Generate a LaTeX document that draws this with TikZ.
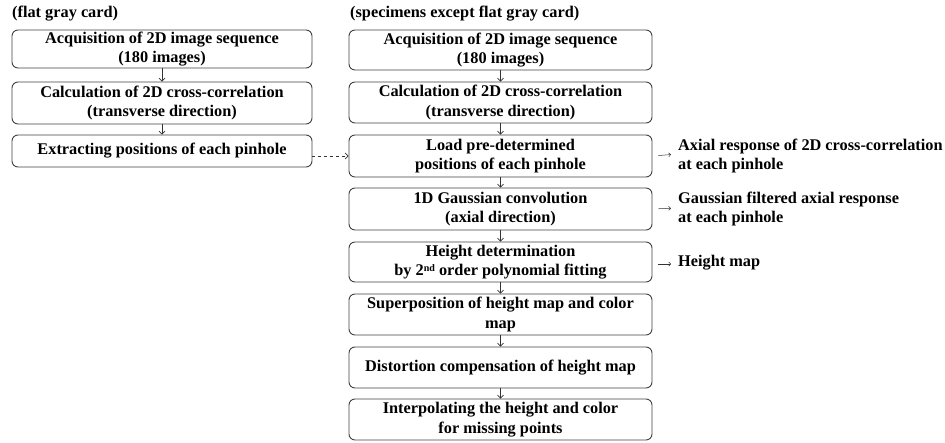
\documentclass[tikz,border=0pt]{standalone}
\usepackage{fontspec}
\setmainfont{Liberation Serif}
\usetikzlibrary{arrows.meta}
\begin{document}
\begin{tikzpicture}[x=1pt,y=-1pt,
  every node/.style={font=\bfseries\fontsize{16.3}{19.5}\selectfont, text=black},
  stepbox/.style={draw=black!75, line width=0.9pt, rounded corners=6pt, align=center, inner sep=0pt, minimum width=#1},
  stepbox/.default=300pt,
  flow/.style={draw=black!80, line width=0.7pt, -{Straight Barb[length=3pt,width=6pt]}},
  side/.style={draw=black!80, line width=0.5pt, -{Straight Barb[length=2pt,width=4pt]}, shorten <=6pt, shorten >=7pt},
  note/.style={anchor=west, align=left, inner sep=0pt},
  head/.style={anchor=west, inner sep=0pt}]
\useasboundingbox (0,0) rectangle (945,443);
% headers
\node[head] (hL) at (12,14) {(flat gray card)};
\node[head] (hR) at (350,14) {(specimens except flat gray card)};
% left column
\node[stepbox, minimum height=38pt] (L1) at (162,49) {Acquisition of 2D image sequence\\(180 images)};
\node[stepbox, minimum height=42pt] (L2) at (162,103) {Calculation of 2D cross-correlation\\(transverse direction)};
\node[stepbox, minimum height=32pt] (L3) at (162,151) {Extracting positions of each pinhole};
% right column
\node[stepbox=303pt, minimum height=40pt] (R1) at (500.5,50) {Acquisition of 2D image sequence\\(180 images)};
\node[stepbox=303pt, minimum height=41pt] (R2) at (500.5,102.5) {Calculation of 2D cross-correlation\\(transverse direction)};
\node[stepbox=303pt, minimum height=42pt] (R3) at (500.5,156) {Load pre-determined\\positions of each pinhole};
\node[stepbox=303pt, minimum height=42pt] (R4) at (500.5,209) {1D Gaussian convolution\\(axial direction)};
\node[stepbox=303pt, minimum height=40pt] (R5) at (500.5,262) {Height determination\\by 2{\fontsize{10}{10}\selectfont\raisebox{0.85ex}{nd}} order polynomial fitting};
\node[stepbox=303pt, minimum height=41pt] (R6) at (500.5,314.5) {Superposition of height map and color\\map};
\node[stepbox=303pt, minimum height=41pt] (R7) at (500.5,367.5) {Distortion compensation of height map};
\node[stepbox=303pt, minimum height=41pt] (R8) at (500.5,419.5) {Interpolating the height and color\\for missing points};
% notes
\node[note] (A1) at (678,156) {Axial response of 2D cross-correlation\\at each pinhole};
\node[note] (A2) at (678,209) {Gaussian filtered axial response\\at each pinhole};
\node[note] (A3) at (678,263) {Height map};
% vertical arrows
\draw[flow] (L1) -- (L2);
\draw[flow] (L2) -- (L3);
\draw[flow] (R1) -- (R2);
\draw[flow] (R2) -- (R3);
\draw[flow] (R3) -- (R4);
\draw[flow] (R4) -- (R5);
\draw[flow] (R5) -- (R6);
\draw[flow] (R6) -- (R7);
\draw[flow] (R7) -- (R8);
% dashed
\draw[flow, dashed] (L3.east |- R3.west) -- (R3.west);
% side arrows
\draw[side] (R3.east |- A1.west) -- ([yshift=2pt]A1.west);
\draw[side] (R4.east |- A2.west) -- ([yshift=1pt]A2.west);
\draw[side] ([yshift=-1pt]R5.east |- A3.west) -- ([yshift=-1pt]A3.west);
\end{tikzpicture}
\end{document}
